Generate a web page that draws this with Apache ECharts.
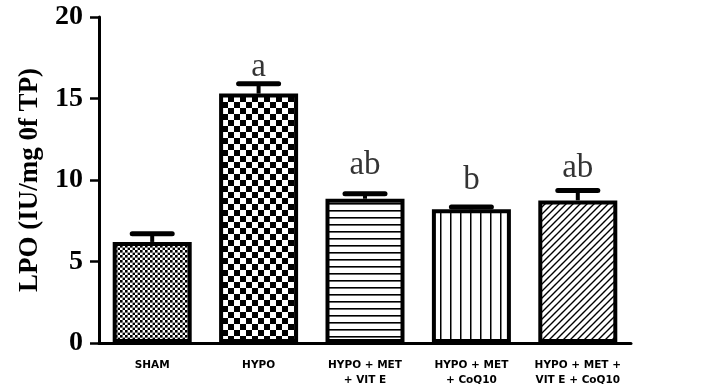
<!DOCTYPE html>
<html><head><meta charset="utf-8">
<script src="https://cdn.jsdelivr.net/npm/echarts@6/dist/echarts.min.js"></script>
<style>html,body{margin:0;padding:0;background:#fff}#c{width:707px;height:384px}</style>
</head><body><div id="c"></div>
<script>
var categories = ['SHAM', 'HYPO', 'HYPO + MET\n+ VIT E', 'HYPO + MET\n+ CoQ10', 'HYPO + MET +\nVIT E + CoQ10'];
var means = [6.2, 15.3, 8.85, 8.2, 8.75];
var errors = [0.5, 0.6, 0.3, 0.15, 0.6];
var letters = ['', 'a', 'ab', 'b', 'ab'];
var letterY = [0, 16.9, 10.9, 10.0, 10.7];
var yTicks = [0, 5, 10, 15, 20];

function makePattern(kind) {
  var c = document.createElement('canvas');
  var ctx = c.getContext('2d');
  if (kind === 'smallCheck') {
    var s = 2.6; c.width = c.height = s * 2;
    ctx.fillStyle = '#fff'; ctx.fillRect(0, 0, c.width, c.height);
    ctx.fillStyle = '#000'; ctx.fillRect(0, 0, s, s); ctx.fillRect(s, s, s, s);
  } else if (kind === 'bigCheck') {
    var b = 6; c.width = c.height = b * 2;
    ctx.fillStyle = '#fff'; ctx.fillRect(0, 0, c.width, c.height);
    ctx.fillStyle = '#000'; ctx.fillRect(0, 0, b, b); ctx.fillRect(b, b, b, b);
  } else if (kind === 'hLines') {
    c.width = 10; c.height = 7;
    ctx.fillStyle = '#fff'; ctx.fillRect(0, 0, 10, 7);
    ctx.fillStyle = '#000'; ctx.fillRect(0, 0, 10, 1.6);
  } else if (kind === 'vLines') {
    c.width = 10; c.height = 10;
    ctx.fillStyle = '#fff'; ctx.fillRect(0, 0, 10, 10);
    ctx.fillStyle = '#000'; ctx.fillRect(0, 0, 1.5, 10);
  } else if (kind === 'diag') {
    var d = 7; c.width = c.height = d;
    ctx.fillStyle = '#fff'; ctx.fillRect(0, 0, d, d);
    ctx.strokeStyle = '#000'; ctx.lineWidth = 1.4;
    ctx.beginPath();
    ctx.moveTo(-1, d + 1); ctx.lineTo(d + 1, -1);
    ctx.moveTo(-1, 1); ctx.lineTo(1, -1);
    ctx.moveTo(d - 1, d + 1); ctx.lineTo(d + 1, d - 1);
    ctx.stroke();
  }
  return { image: c, repeat: 'repeat' };
}
var patterns = ['smallCheck', 'bigCheck', 'hLines', 'vLines', 'diag'];

var barData = means.map(function (v, i) {
  return { value: v, itemStyle: { color: makePattern(patterns[i]) } };
});

var chart = echarts.init(document.getElementById('c'), null, { renderer: 'canvas' });
chart.setOption({
  animation: false,
  backgroundColor: '#fff',
  grid: { left: 99, right: 76, top: 17, bottom: 41, outerBoundsMode: 'none', containLabel: false },
  xAxis: {
    type: 'category', data: categories,
    axisLine: { lineStyle: { color: '#000', width: 3 } },
    axisTick: { alignWithLabel: true, length: 8, lineStyle: { color: '#000', width: 2.5 } },
    axisLabel: { color: '#000', fontFamily: 'DejaVu Sans', fontWeight: 'bold', fontSize: 10.5, lineHeight: 15, margin: 15, interval: 0 }
  },
  yAxis: {
    type: 'value', min: 0, max: 20, interval: 5,
    name: 'LPO (IU/mg 0f TP)', nameLocation: 'middle', nameGap: 55,
    nameTextStyle: { color: '#000', fontFamily: 'Liberation Serif', fontWeight: 'bold', fontSize: 27 },
    axisLine: { show: true, lineStyle: { color: '#000', width: 3 } },
    axisTick: { show: true, length: 9, lineStyle: { color: '#000', width: 2.5 } },
    axisLabel: { color: '#000', fontFamily: 'Liberation Serif', fontWeight: 'bold', fontSize: 28, margin: 16,
      formatter: function (v) { return yTicks.indexOf(v) >= 0 ? String(v) : ''; } },
    splitLine: { show: false }
  },
  series: [
    {
      type: 'bar', data: barData, barWidth: 79,
      itemStyle: { borderColor: '#000', borderWidth: 4 }
    },
    {
      type: 'custom',
      data: means.map(function (v, i) { return [i, v, v + errors[i]]; }),
      renderItem: function (params, api) {
        var i = api.value(0);
        var p0 = api.coord([i, api.value(1)]);
        var p1 = api.coord([i, api.value(2)]);
        return {
          type: 'group',
          children: [
            { type: 'line', shape: { x1: p0[0], y1: p0[1], x2: p1[0], y2: p1[1] }, style: { stroke: '#000', lineWidth: 4 } },
            { type: 'line', shape: { x1: p1[0] - 20, y1: p1[1], x2: p1[0] + 20, y2: p1[1] }, style: { stroke: '#000', lineWidth: 5, lineCap: 'round' } }
          ]
        };
      },
      z: 5
    },
    {
      type: 'scatter', symbolSize: 0,
      data: letters.map(function (t, i) { return { value: [i, letterY[i]], name: t }; }),
      label: { show: true, position: 'inside', formatter: function (p) { return p.name; },
        color: '#000', fontFamily: 'Liberation Serif', fontSize: 33 },
      z: 6
    }
  ]
});
</script></body></html>
